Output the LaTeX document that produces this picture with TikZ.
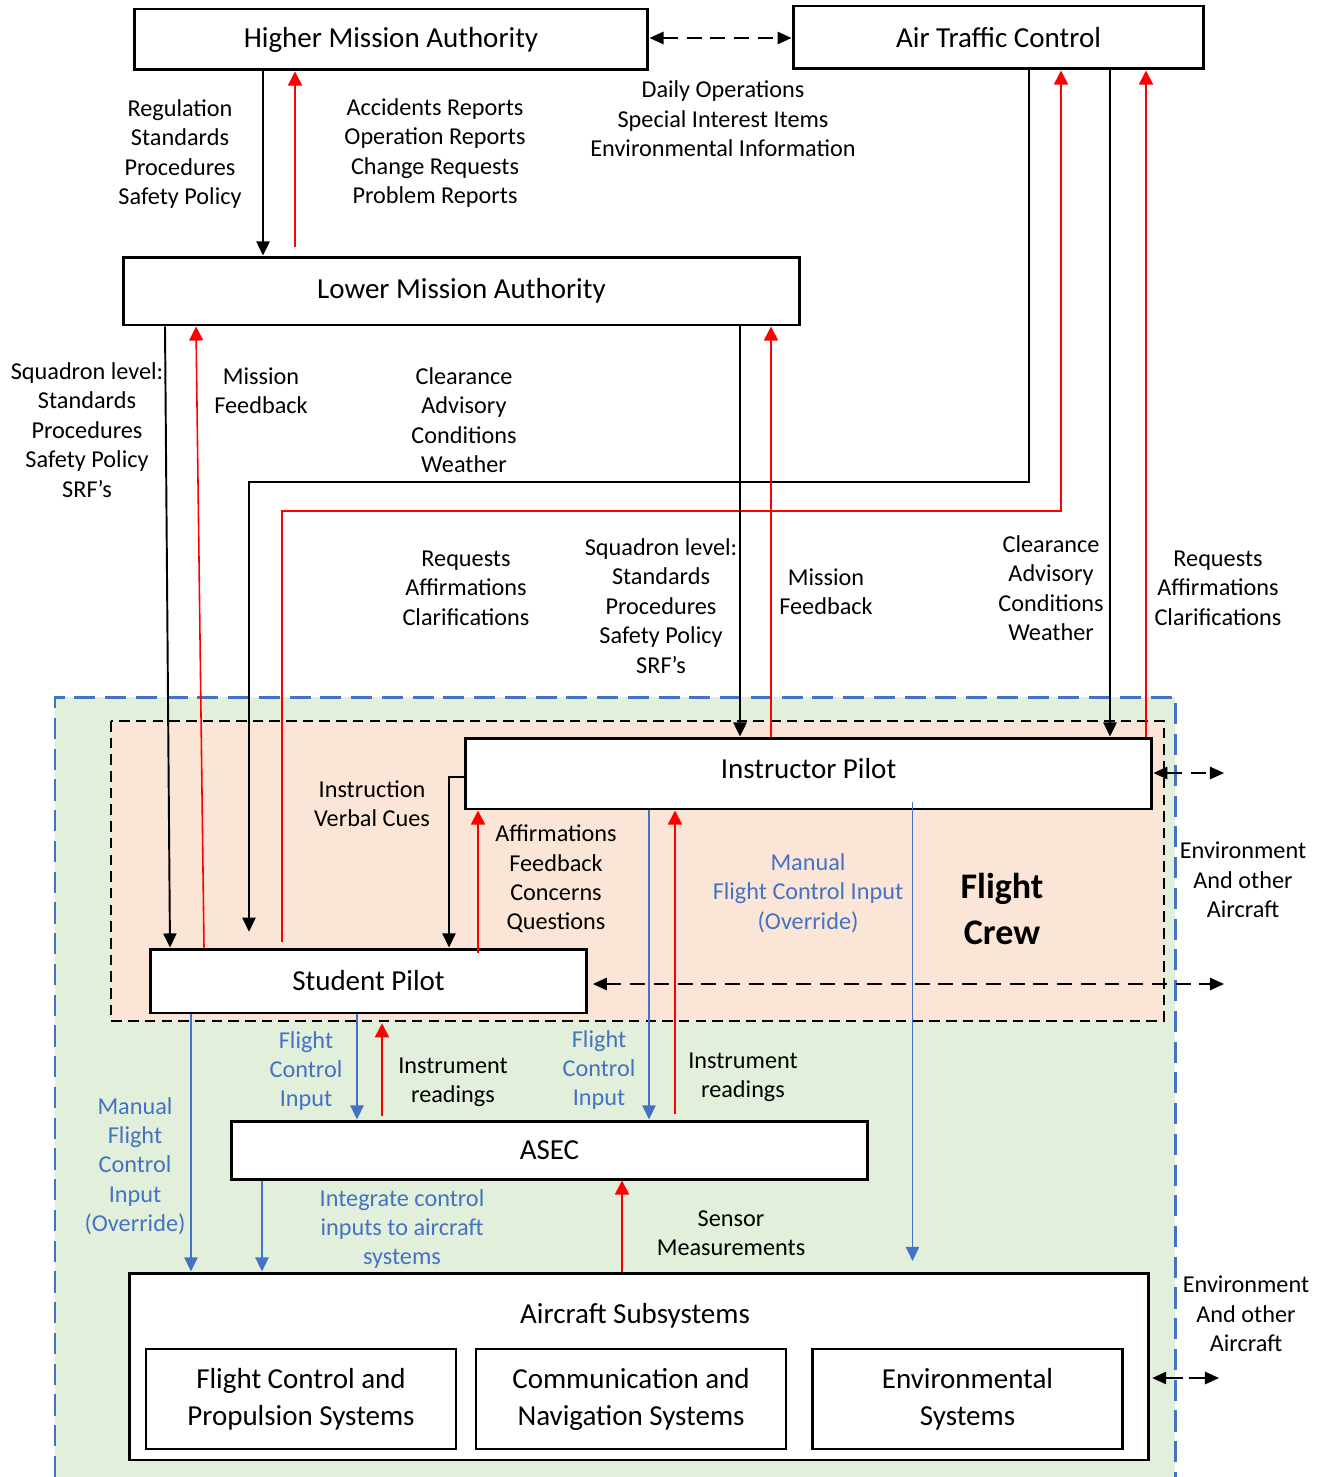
\documentclass[tikz,border=0pt]{standalone}
\usepackage{fontspec}
\setmainfont{Carlito}
\usetikzlibrary{arrows.meta}
\definecolor{crewfill}{HTML}{FBE5D6}
\definecolor{sysfill}{HTML}{E2EFDA}
\definecolor{ctlblue}{HTML}{4472C4}
\definecolor{fbred}{HTML}{FF0000}

\begin{document}
\begin{tikzpicture}[x=0.02cm,y=-0.02cm,
  box/.style={draw,line width=1.7pt,fill=white,inner sep=0pt,align=center,
    font=\fontsize{16.5}{21}\selectfont},
  subbox/.style={box,line width=1.4pt,minimum width=6.2cm,minimum height=2cm},
  lbl/.style={align=center,inner sep=0pt,font=\fontsize{13.8}{16.7}\selectfont},
  bluelbl/.style={lbl,text=ctlblue},
  cmd/.style={line width=1.1pt,-{Triangle[length=8pt,width=7.5pt]}},
  fbk/.style={draw=fbred,line width=0.9pt,-{Triangle[length=8pt,width=8pt]}},
  ctl/.style={draw=ctlblue,line width=0.9pt,-{Triangle[length=8pt,width=7.5pt]}},
  peer/.style={line width=1.1pt,dash pattern=on 8.5pt off 5pt,
    {Triangle[length=8pt,width=7pt]}-{Triangle[length=8pt,width=7pt]}},
]
\useasboundingbox (0,0) rectangle (1325,1477);

% aircraft zone and flight crew zone
\fill[sysfill] (55,697) rectangle (1175,1477);
\draw[ctlblue,line width=1.7pt,dash pattern=on 12pt off 5.5pt]
  (55,1477) -- (55,697) -- (1175,697) -- (1175,1477);
\draw[fill=crewfill,line width=1.6pt,dash pattern=on 6pt off 3.5pt]
  (111,721) rectangle (1164,1021);

% organisational boxes
\node[box,minimum width=10.28cm,minimum height=1.22cm] (hma) at (391,39.5) {Higher Mission Authority};
\node[box,minimum width=8.22cm,minimum height=1.26cm] (atc) at (998.5,37.5) {Air Traffic Control};
\node[box,minimum width=13.54cm,minimum height=1.36cm] (lma) at (461.5,291) {Lower Mission Authority};

% crew and aircraft boxes
\node[box,minimum width=13.74cm,minimum height=1.42cm,text depth=0.2cm] (ip) at (808.5,773.5) {Instructor Pilot};
\node[box,minimum width=8.74cm,minimum height=1.28cm] (sp) at (368.5,981) {Student Pilot};
\node[box,minimum width=12.74cm,minimum height=1.16cm] (asec) at (549.5,1150) {ASEC};
\node[box,minimum width=20.4cm,minimum height=3.74cm] (as) at (639,1366.5) {};
\node[inner sep=0pt,font=\fontsize{16.5}{21}\selectfont] (astitle) at (635,1316) {Aircraft Subsystems};
\node[subbox] (fcp) at (301,1399) {Flight Control and\\Propulsion Systems};
\node[subbox] (cns) at (631,1399) {Communication and\\Navigation Systems};
\node[subbox] (env) at (967.5,1399) {Environmental\\Systems};

% labels
\node[lbl] (lregs) at (180,154) {Regulation\\Standards\\Procedures\\Safety Policy};
\node[lbl] (lreps) at (435,153) {Accidents Reports\\Operation Reports\\Change Requests\\Problem Reports};
\node[lbl] (ldaily) at (723,119) {Daily Operations\\Special Interest Items\\Environmental Information};
\node[lbl] (lsqa) at (87,430) {Squadron level:\\Standards\\Procedures\\Safety Policy\\SRF’s};
\node[lbl] (lmfa) at (261,391) {Mission\\Feedback};
\node[lbl] (lclra) at (464,420) {Clearance\\Advisory\\Conditions\\Weather};
\node[lbl] (lreqa) at (466,588) {Requests\\Affirmations\\Clarifications};
\node[lbl] (lsqb) at (661,606) {Squadron level:\\Standards\\Procedures\\Safety Policy\\SRF’s};
\node[lbl] (lmfb) at (826,592) {Mission\\Feedback};
\node[lbl] (lclrb) at (1051,588) {Clearance\\Advisory\\Conditions\\Weather};
\node[lbl] (lreqb) at (1218,588) {Requests\\Affirmations\\Clarifications};
\node[lbl] (linstr) at (372,804) {Instruction\\Verbal Cues};
\node[lbl] (laffm) at (556,879) {Affirmations\\Feedback\\Concerns\\Questions};
\node[bluelbl] (lmanb) at (808,893) {Manual\\Flight Control Input\\(Override)};
\node[align=center,inner sep=0pt,font=\bfseries\fontsize{20.5}{26.5}\selectfont] (lcrew) at (1002,909) {Flight\\Crew};
\node[lbl] (lenva) at (1243,880) {Environment\\And other\\Aircraft};
\node[bluelbl] (lfcia) at (306,1071) {Flight\\Control\\Input};
\node[lbl] (linsa) at (453,1082) {Instrument\\readings};
\node[bluelbl] (lfcib) at (599,1070) {Flight\\Control\\Input};
\node[lbl] (linsb) at (743,1077) {Instrument\\readings};
\node[bluelbl] (lmana) at (135,1166) {Manual\\Flight\\Control\\Input\\(Override)};
\node[bluelbl] (lintg) at (402,1229) {Integrate control\\inputs to aircraft\\systems};
\node[lbl] (lsens) at (731,1233) {Sensor\\Measurements};
\node[lbl] (lenvb) at (1246,1314) {Environment\\And other\\Aircraft};

% free ends towards the environment
\coordinate (envip) at (1224,773);
\coordinate (envsp) at (1224,984);
\coordinate (envas) at (1219,1378);

% authority links
\draw[peer] (hma.east |- 0,38) -- (atc.west |- 0,38);
\draw[cmd] (263,0 |- hma.south) -- (263,0 |- lma.north);
\draw[fbk,shorten <=5pt] (295,0 |- lma.north) -- (295,0 |- hma.south);

% links to the student pilot
\draw[cmd] (165,0 |- lma.south) -- (170,0 |- sp.north);
\draw[fbk] (204,0 |- sp.north) -- (196,0 |- lma.south);
\draw[cmd,shorten >=9pt] (1029,0 |- atc.south) |- (249,482) -- (249,0 |- sp.north);
\draw[fbk,shorten <=3.4pt] (282,0 |- sp.north) -- (282,511) -| (1061,0 |- atc.south);

% links to the instructor pilot
\draw[cmd] (740,0 |- lma.south) -- (740,0 |- ip.north);
\draw[fbk] (771,0 |- ip.north) -- (771,0 |- lma.south);
\draw[cmd] (1110,0 |- atc.south) -- (1110,0 |- ip.north);
\draw[fbk] (1146,0 |- ip.north) -- (1146,0 |- atc.south);

% within the crew
\draw[cmd,line width=0.8pt] (ip.west |- 0,777) -- (449,777) -- (449,0 |- sp.north);
\draw[fbk,shorten <=-3pt] (478,0 |- sp.north) -- (478,0 |- ip.south);

% environment and other aircraft
\draw[peer] (ip.east |- envip) -- (envip);
\draw[peer,shorten <=2.5pt] (sp.east |- envsp) -- (envsp);
\draw[peer,dash pattern=on 9.6pt off 3.4pt,shorten <=1pt] (as.east |- envas) -- (envas);

% control inputs and feedback
\draw[ctl,shorten <=-5pt,shorten >=6pt] (912.5,0 |- ip.south) -- (912.5,0 |- as.north);
\draw[ctl] (649,0 |- ip.south) -- (649,0 |- asec.north);
\draw[fbk,shorten <=3pt] (675,0 |- asec.north) -- (675,0 |- ip.south);
\draw[ctl] (357,0 |- sp.south) -- (357,0 |- asec.north);
\draw[fbk,shorten <=2pt,shorten >=5pt] (382,0 |- asec.north) -- (382,0 |- sp.south);
\draw[ctl] (191,0 |- sp.south) -- (191,0 |- as.north);
\draw[ctl] (262,0 |- asec.south) -- (262,0 |- as.north);
\draw[fbk] (622,0 |- as.north) -- (622,0 |- asec.south);
\end{tikzpicture}
\end{document}
